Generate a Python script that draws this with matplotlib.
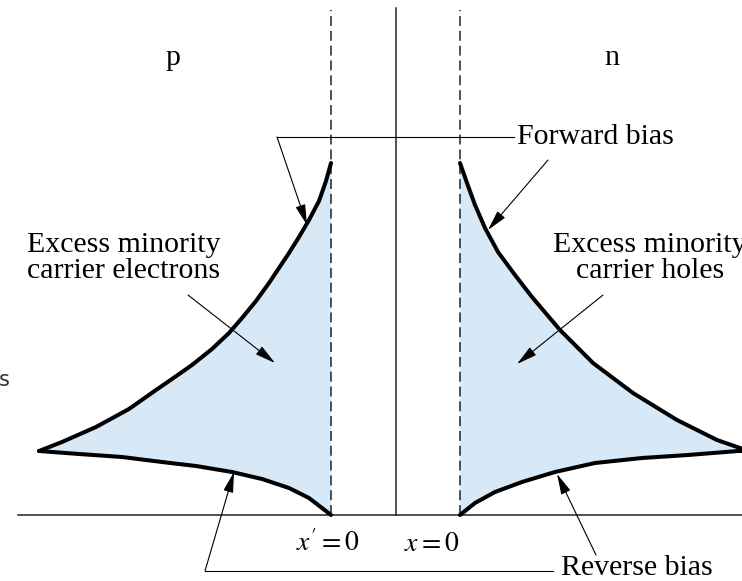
import matplotlib
matplotlib.use("Agg")
from matplotlib import pyplot as plt
import numpy as np

# excess minority carrier profiles
# distance from the depletion edge / concentration above the axis (arbitrary units)
dist_p_fwd = [0, 5, 12, 22, 32, 42, 52, 62, 75, 89, 102, 119, 139, 159, 175, 202, 235, 269, 292]
conc_p_fwd = [352, 334, 314, 295, 278, 262, 247, 232, 214, 197, 182, 166, 150, 136, 125, 106, 88, 73, 64]
dist_p_rev = [0, 9, 22, 42, 69, 99, 135, 169, 209, 252, 292]
conc_p_rev = [0, 7, 17, 27, 36, 43, 49, 53, 58, 61, 64]

dist_n_fwd = [0, 7, 15, 25, 38, 55, 72, 100, 133, 173, 217, 257, 280, 292]
conc_n_fwd = [352, 332, 310, 287, 263, 240, 218, 185, 152, 122, 95, 75, 67, 63]
dist_n_rev = [0, 15, 35, 62, 95, 135, 182, 228, 278, 292]
conc_n_rev = [0, 12, 23, 33, 43, 52, 57, 60, 64, 64]

region_labels = ["p", "n"]
carrier_labels = ["Excess minority\ncarrier electrons", "Excess minority\ncarrier holes"]
bias_labels = ["Forward bias", "Reverse bias"]
edge_labels = [r"$x' = 0$", r"$x = 0$"]

# layout
XP, XJ, XN = 331, 396, 460   # p-side edge, junction, n-side edge
FILL = "#d7e8f7"
SERIF = ["Liberation Serif", "DejaVu Serif"]
FS = 21.5
plt.rcParams["mathtext.fontset"] = "stix"

fig = plt.figure(figsize=(7.42, 5.81), dpi=100)
ax = fig.add_axes([0, 0, 1, 1])
ax.set_xlim(0, 742)
ax.set_ylim(-66, 515)
ax.axis("off")

curve = dict(color="black", lw=2.9, solid_joinstyle="round", solid_capstyle="round", zorder=3)

# p side (distance measured to the left)
xp_fwd = XP - np.array(dist_p_fwd)
xp_rev = XP - np.array(dist_p_rev)
ax.fill(np.concatenate([xp_fwd, xp_rev[::-1]]),
        np.concatenate([conc_p_fwd, conc_p_rev[::-1]]),
        color=FILL, lw=0, zorder=1)
ax.plot(xp_fwd, conc_p_fwd, **curve)
ax.plot(xp_rev, conc_p_rev, **curve)

# n side
xn_fwd = XN + np.array(dist_n_fwd)
xn_rev = XN + np.array(dist_n_rev)
ax.fill(np.concatenate([xn_fwd, xn_rev[::-1]]),
        np.concatenate([conc_n_fwd, conc_n_rev[::-1]]),
        color=FILL, lw=0, zorder=1)
ax.plot(xn_fwd, conc_n_fwd, **curve)
ax.plot(xn_rev, conc_n_rev, **curve)

# axis, junction and depletion edges
ax.plot([18, 742], [0, 0], color="#222222", lw=1.1, zorder=2)
ax.plot([XJ, XJ], [0, 507], color="#222222", lw=1.1, zorder=2)
for x in (XP, XN):
    ax.plot([x, x], [0, 505], color="#222222", lw=1.1, dashes=(6.5, 3.2), zorder=2)

# text
ax.text(173, 450, region_labels[0], fontsize=FS, family=SERIF, ha="center", va="baseline")
ax.text(612, 450, region_labels[1], fontsize=FS, family=SERIF, ha="center", va="baseline")
ax.text(124, 257, carrier_labels[0], fontsize=FS, family=SERIF, ha="center", va="center",
        linespacing=0.95)
ax.text(650, 257, carrier_labels[1], fontsize=FS, family=SERIF, ha="center", va="center",
        linespacing=0.95)
ax.text(517, 378, bias_labels[0], fontsize=FS, family=SERIF, ha="left", va="center")
ax.text(561, -53, bias_labels[1], fontsize=FS, family=SERIF, ha="left", va="center")
ax.text(328, -28, edge_labels[0], fontsize=20, ha="center", va="center")
ax.text(432, -28, edge_labels[1], fontsize=20, ha="center", va="center")
ax.text(-1, 135, "s", fontsize=15, ha="left", va="center", color="#333333")

# leader lines and arrows
thin = dict(color="black", lw=0.8)
ax.plot([277, 514], [378, 378], **thin, zorder=2)
ax.plot([205, 553], [-56, -56], **thin, zorder=2)
arrow = dict(arrowstyle="-|>,head_length=0.9,head_width=0.22", color="black",
             lw=0.8, shrinkA=0, shrinkB=0, mutation_scale=14)
arrows = [((277, 378), (307, 290)),
          ((548, 355), (488, 285)),
          ((188, 220), (275, 152)),
          ((603, 220), (517, 151)),
          ((205, -56), (234, 43)),
          ((596, -40), (557, 41))]
for start, tip in arrows:
    ax.annotate("", xy=tip, xytext=start, arrowprops=arrow, zorder=4)

fig.savefig("out.png", dpi=100)
